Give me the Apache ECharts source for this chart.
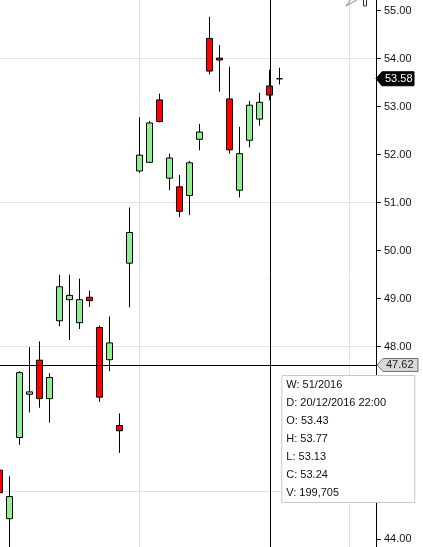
<!DOCTYPE html>
<html><head><meta charset="utf-8">
<script src="https://cdn.jsdelivr.net/npm/echarts@6/dist/echarts.min.js"></script>
<style>html,body{margin:0;padding:0;background:#fff;overflow:hidden}#c{width:423px;height:547px}</style>
</head><body><div id="c"></div>
<script>
// ---- data (weekly candles, index k = position on the time axis) ----
const weekIndex = [-1,0,1,2,3,4,5,6,7,8,9,10,11,12,13,14,15,16,17,18,19,20,21,22,23,24,25,26,27];
const opens  = [45.43,44.42,46.11,47.01,47.72,46.92,48.54,48.98,48.50,49.03,48.40,47.73,46.36,49.74,51.66,51.84,53.14,51.51,51.33,51.15,52.32,54.42,54.01,53.16,51.26,52.30,52.74,53.43,53.58];
const closes = [44.96,44.88,47.46,47.06,46.92,47.36,49.25,49.07,48.98,48.96,46.95,48.08,46.25,50.38,51.99,52.66,52.69,51.93,50.82,51.83,52.47,53.74,53.97,52.10,52.02,53.03,53.09,53.24,53.58];
const lows   = [44.85,43.80,45.96,46.63,46.73,46.42,48.43,48.14,48.37,48.83,46.85,47.49,45.79,48.82,51.62,51.83,52.67,51.26,50.70,50.74,52.09,53.67,53.31,52.02,51.11,52.15,52.60,53.13,53.46];
const highs  = [45.55,45.30,47.49,47.99,48.11,47.45,49.50,49.50,49.42,49.17,48.44,48.63,46.61,50.90,52.78,52.70,53.27,52.02,51.58,51.87,52.64,54.87,54.28,53.83,52.58,53.12,53.29,53.77,53.81];

const priceTicks = [44,45,46,47,48,49,50,51,52,53,54,55];
const priceGrid  = [45,48,51,54];
const timeGrid   = [13,34];
const yMin = 43.83, yMax = 55.22;
const xMin = -0.93, xMax = 36.67;

const cursorX = 26.1, cursorY = 47.62;
const lastPrice = 53.58;
const hoverPos = 27;            // array position of the hovered candle (k = 26)
const hoverWeek = '51/2016';
const hoverDate = '20/12/2016 22:00';
const hoverVolume = '199,705';

const FONT = '"Liberation Sans", Arial, sans-serif';
const candleData = weekIndex.map((k, i) => [k, opens[i], closes[i], lows[i], highs[i]]);

const chart = echarts.init(document.getElementById('c'), null, {renderer: 'canvas'});
chart.setOption({
  animation: false,
  backgroundColor: '#ffffff',
  grid: {left: 0, right: 47, top: 0, bottom: 0, containLabel: false},
  xAxis: {type: 'value', min: xMin, max: xMax, show: false, axisLine: {onZero: false}, splitLine: {show: false}},
  yAxis: {
    type: 'value', position: 'right', min: yMin, max: yMax, scale: true,
    axisLine: {show: true, onZero: false, lineStyle: {color: '#000', width: 1}},
    axisTick: {show: true, length: 5, inside: false, customValues: priceTicks, lineStyle: {color: '#000'}},
    axisLabel: {show: true, customValues: priceTicks, margin: 8, color: '#111', fontSize: 11, fontFamily: FONT,
      formatter: v => v.toFixed(2)},
    splitLine: {show: false}
  },
  series: [
    {
      type: 'line', data: [], silent: true,
      markLine: {
        z: 1, silent: true, symbol: 'none', animation: false,
        label: {show: false},
        lineStyle: {color: '#e1e1e1', width: 1, type: 'solid'},
        data: priceGrid.map(v => ({yAxis: v})).concat(timeGrid.map(v => ({xAxis: v})))
      }
    },
    {
      type: 'candlestick', z: 2,
      data: candleData,
      encode: {x: 0, y: [1, 2, 3, 4]},
      barWidth: 6,
      clip: true,
      itemStyle: {color: '#90ee90', color0: '#ff0000', borderColor: '#000', borderColor0: '#000', borderWidth: 1},
      markLine: {
        z: 10, silent: true, symbol: 'none', animation: false,
        label: {show: false},
        lineStyle: {color: '#000', width: 1, type: 'solid'},
        data: [{xAxis: cursorX}, {yAxis: cursorY}]
      }
    }
  ]
});

// ---- overlay labels (positions derived from the chart's own scales) ----
const axisX = chart.convertToPixel({xAxisIndex: 0}, xMax);
const yLast = chart.convertToPixel({yAxisIndex: 0}, lastPrice);
const yCur  = chart.convertToPixel({yAxisIndex: 0}, cursorY);
const xCur  = chart.convertToPixel({xAxisIndex: 0}, cursorX);
const H = chart.getHeight();

const tipLines = [
  'W: ' + hoverWeek,
  'D: ' + hoverDate,
  'O: ' + opens[hoverPos].toFixed(2),
  'H: ' + highs[hoverPos].toFixed(2),
  'L: ' + lows[hoverPos].toFixed(2),
  'C: ' + closes[hoverPos].toFixed(2),
  'V: ' + hoverVolume
];
const tipX = xCur + 11, tipY = yCur + 10;

const graphics = [
  {type: 'rect', z: 15, shape: {x: Math.round(axisX), y: 0, width: 1, height: H},
   style: {fill: '#000'}},
  {type: 'polygon', z: 20, shape: {points: [[axisX, yLast],[axisX+6, yLast-7],[axisX+38, yLast-7],[axisX+38, yLast+7],[axisX+6, yLast+7]]},
   style: {fill: '#000', stroke: '#000'}},
  {type: 'text', z: 21, x: axisX + 9, y: yLast, style: {text: lastPrice.toFixed(2), fill: '#fff', font: '11px ' + FONT, verticalAlign: 'middle'}},
  {type: 'polygon', z: 20, shape: {points: [[axisX+1, yCur],[axisX+7, yCur-6.5],[axisX+42, yCur-6.5],[axisX+42, yCur+6.5],[axisX+7, yCur+6.5]]},
   style: {fill: '#d8d8d8', stroke: '#707070', lineWidth: 1}},
  {type: 'text', z: 21, x: axisX + 10, y: yCur, style: {text: cursorY.toFixed(2), fill: '#222', font: '11px ' + FONT, verticalAlign: 'middle'}},
  {type: 'rect', z: 30, shape: {x: tipX + 0.5, y: tipY + 0.5, width: 133, height: 127},
   style: {fill: '#fff', stroke: '#c8c8c8', lineWidth: 1}},
  {type: 'polyline', z: 20, shape: {points: [[352,-2],[346,6],[357,0]]}, style: {stroke: '#888', lineWidth: 1, fill: null}},
  {type: 'rect', z: 20, shape: {x: 363.5, y: -1, width: 3, height: 7}, style: {stroke: '#333', lineWidth: 1, fill: '#fff'}}
];
tipLines.forEach((t, i) => {
  graphics.push({type: 'text', z: 31, x: tipX + 5, y: tipY + 10 + i * 18,
    style: {text: t, fill: '#111', font: '11px ' + FONT, verticalAlign: 'middle'}});
});
chart.setOption({graphic: graphics});
</script>
</body></html>
